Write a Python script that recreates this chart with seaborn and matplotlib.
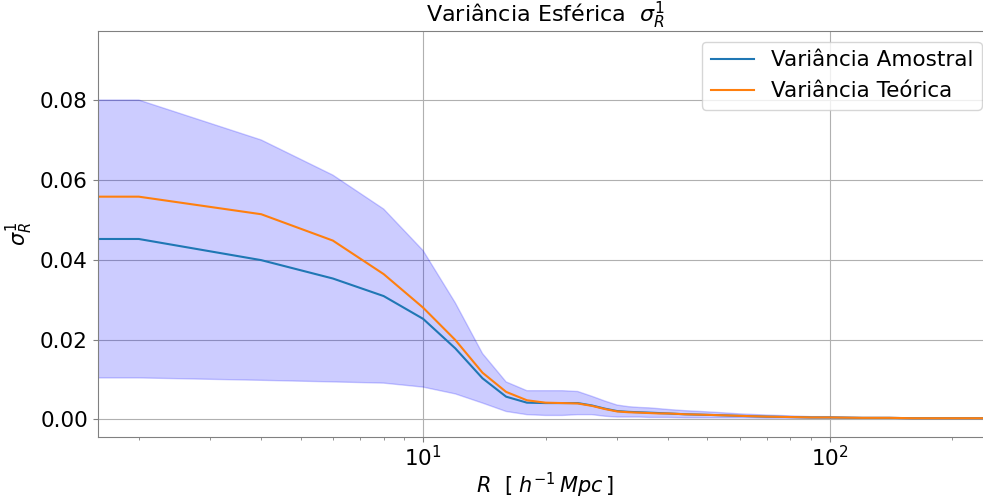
import numpy as np
import pandas as pd
import matplotlib
matplotlib.use("Agg")
import matplotlib.pyplot as plt
import seaborn as sns

# ---- data ----
R = [0, 2, 4, 6, 8, 10, 12, 14, 16, 18, 20, 22, 24, 26, 28, 30, 32, 34, 36, 38, 40,
     44, 48, 52, 56, 60, 70, 80, 90, 100, 120, 140, 160, 180, 200, 220, 240, 260]

var_amostral = [0.0452, 0.0452, 0.0399, 0.0353, 0.0309, 0.0252, 0.0178, 0.0103, 0.0057, 0.0042,
                0.0041, 0.0041, 0.0041, 0.0035, 0.0027, 0.0021, 0.0019, 0.0018, 0.0017, 0.0016,
                0.0015, 0.0013, 0.0012, 0.0011, 0.0010, 0.0009, 0.0007, 0.0006, 0.0005, 0.0005,
                0.0004, 0.0004, 0.0003, 0.0003, 0.0003, 0.0003, 0.0003, 0.0003]

var_teorica = [0.0558, 0.0558, 0.0514, 0.0448, 0.0364, 0.0280, 0.0199, 0.0117, 0.0069, 0.0048,
               0.0042, 0.0041, 0.0040, 0.0034, 0.0026, 0.0020, 0.0018, 0.0017, 0.0016, 0.0015,
               0.0015, 0.0013, 0.0012, 0.0011, 0.0010, 0.0009, 0.0007, 0.0006, 0.0005, 0.0005,
               0.0004, 0.0004, 0.0003, 0.0003, 0.0003, 0.0003, 0.0003, 0.0003]

desvio = [0.0348, 0.0348, 0.0301, 0.0259, 0.0218, 0.0171, 0.0114, 0.0062, 0.0037, 0.0030,
          0.0031, 0.0031, 0.0029, 0.0023, 0.0019, 0.0015, 0.0013, 0.0012, 0.0012, 0.0011,
          0.0010, 0.0009, 0.0008, 0.0007, 0.0006, 0.0005, 0.0004, 0.0003, 0.0002, 0.0002,
          0.0001, 0.0001, 0.0001, 0.0001, 0.0001, 0.0001, 0.0001, 0.0001]

labels = ["Variância Amostral", "Variância Teórica"]
title = r"Variância Esférica  $\sigma_R^1$"
xlabel = r"$R\ \ [\ h^{-1}\,Mpc\,]$"
ylabel = r"$\sigma_R^1$"
yticks = [0.00, 0.02, 0.04, 0.06, 0.08]

df = pd.DataFrame({"R": R, "amostral": var_amostral, "teorica": var_teorica, "std": desvio})

plt.rcParams.update({
    "font.family": ["DejaVu Sans"],
    "axes.edgecolor": "#808080",
    "xtick.color": "#808080",
    "ytick.color": "#808080",
    "xtick.labelcolor": "black",
    "ytick.labelcolor": "black",
    "mathtext.fontset": "dejavusans",
})

fig = plt.figure(figsize=(9.83, 5.03), dpi=100)
ax = fig.add_axes([0.0994, 0.1312, 0.9103, 0.8072])

ax.fill_between(df["R"], df["amostral"] - df["std"], df["amostral"] + df["std"],
                color="blue", alpha=0.2)
sns.lineplot(data=df, x="R", y="amostral", ax=ax, color="C0", label=labels[0],
             errorbar=None, linewidth=1.5)
sns.lineplot(data=df, x="R", y="teorica", ax=ax, color="C1", label=labels[1],
             errorbar=None, linewidth=1.5)

ax.set_xscale("log")
ax.set_xlim(10 ** 0.2, 10 ** 2.4)
ax.set_ylim(-0.0044, 0.0973)
ax.set_yticks(yticks)
ax.grid(True, which="major", color="#b0b0b0", linewidth=0.8)
ax.set_axisbelow(True)
ax.tick_params(labelsize=15.5)
ax.tick_params(axis="x", pad=2)

ax.set_title(title, fontsize=16)
ax.set_xlabel(xlabel, fontsize=15, labelpad=1)
ax.set_ylabel(ylabel, fontsize=15)
ax.legend(loc="upper right", fontsize=15.5)

fig.savefig("out.png", dpi=100)
